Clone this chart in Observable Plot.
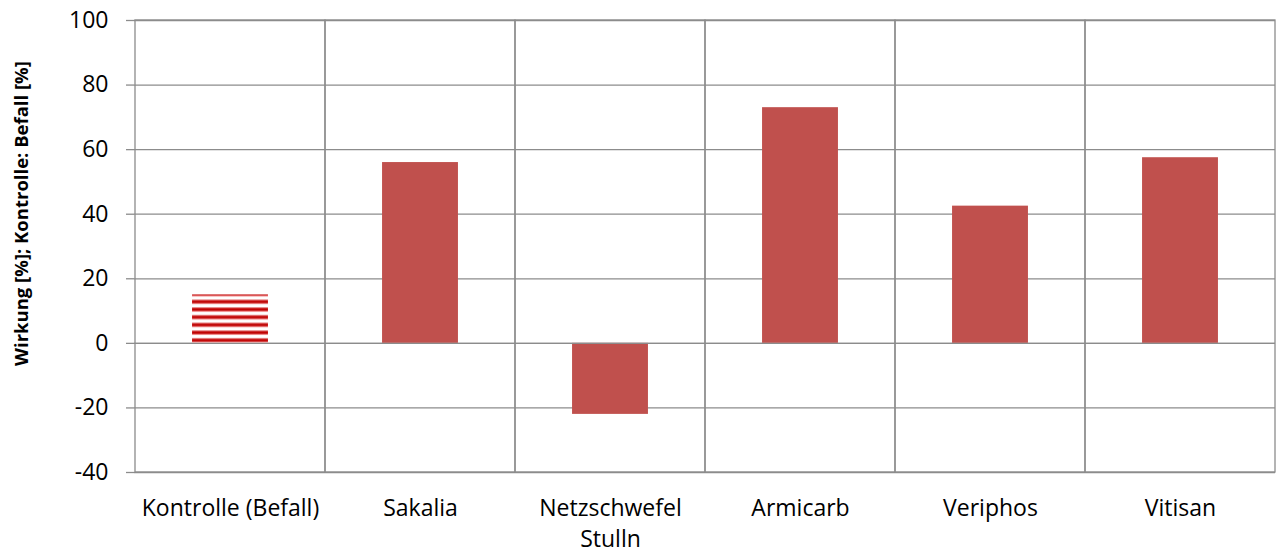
<!DOCTYPE html>
<html>
<head>
<meta charset="utf-8">
<script src="https://cdn.jsdelivr.net/npm/d3@7"></script>
<script src="https://cdn.jsdelivr.net/npm/@observablehq/plot@0.6"></script>
<style>
  html, body { margin: 0; padding: 0; background: #fff; }
  #chart { width: 1279px; height: 551px; }
</style>
</head>
<body>
<div id="chart"></div>
<script>
const categories = ["Kontrolle (Befall)", "Sakalia", "Netzschwefel\nStulln", "Armicarb", "Veriphos", "Vitisan"];
const values = [15, 56, -22, 73, 42.5, 57.5];
const yTicks = [-40, -20, 0, 20, 40, 60, 80, 100];
const yLabel = "Wirkung [%]; Kontrolle: Befall [%]";

const data = categories.map((c, i) => ({cat: c, value: values[i], control: i === 0}));

const defs = () => {
  const d = d3.create("svg:defs");
  const p = d.append("pattern")
    .attr("id", "stripes")
    .attr("patternUnits", "userSpaceOnUse")
    .attr("x", 0).attr("y", 295.5)
    .attr("width", 8).attr("height", 7.7);
  p.append("rect").attr("x", 0).attr("y", 0).attr("width", 8).attr("height", 7.7).attr("fill", "#ffffff");
  p.append("rect").attr("x", 0).attr("y", 0).attr("width", 8).attr("height", 1).attr("fill", "#f08a8a");
  p.append("rect").attr("x", 0).attr("y", 4.2).attr("width", 8).attr("height", 1).attr("fill", "#d84848");
  p.append("rect").attr("x", 0).attr("y", 5.0).attr("width", 8).attr("height", 2.6).attr("fill", "#c00000");
  p.append("rect").attr("x", 0).attr("y", 7.6).attr("width", 8).attr("height", 0.1).attr("fill", "#e07070");
  return d.node();
};

const gridColor = "#8c8c8c";
const band = (1275 - 134) / 6;
const inset = band * 0.3;

const chart = Plot.plot({
  width: 1279,
  height: 551,
  marginLeft: 134,
  marginRight: 4,
  marginTop: 20,
  marginBottom: 79,
  style: {fontFamily: "'Open Sans', sans-serif", fontSize: "23px", color: "#000", background: "#fff"},
  x: {domain: categories, padding: 0, label: null},
  y: {domain: [-40, 100], label: null},
  marks: [
    defs,
    Plot.ruleY(yTicks, {stroke: gridColor, strokeWidth: 1.3}),
    Plot.barY(categories, {x: d => d, y1: -40, y2: 100, fill: "none", stroke: gridColor, strokeWidth: 1.3}),
    Plot.barY(data, {x: "cat", y: "value", fill: d => d.control ? "url(#stripes)" : "#c0504d", insetLeft: inset, insetRight: inset}),
    Plot.ruleY([0], {stroke: gridColor, strokeWidth: 1.3}),
    Plot.axisY({ticks: yTicks, tickFormat: d => String(d), tickSize: 8, stroke: gridColor, strokeWidth: 1.3, tickPadding: 18, label: null, fontSize: 23, fill: "#000"}),
    Plot.axisX({tickSize: 0, tickPadding: 21, label: null, fontSize: 23, lineHeight: 1.35, fill: "#000"}),
    Plot.text([yLabel], {frameAnchor: "left", textAnchor: "middle", rotate: -90, dx: -112, dy: -33, fontWeight: "bold", fontSize: 18.5, fill: "#000"})
  ]
});
document.getElementById("chart").appendChild(chart);
</script>
</body>
</html>
